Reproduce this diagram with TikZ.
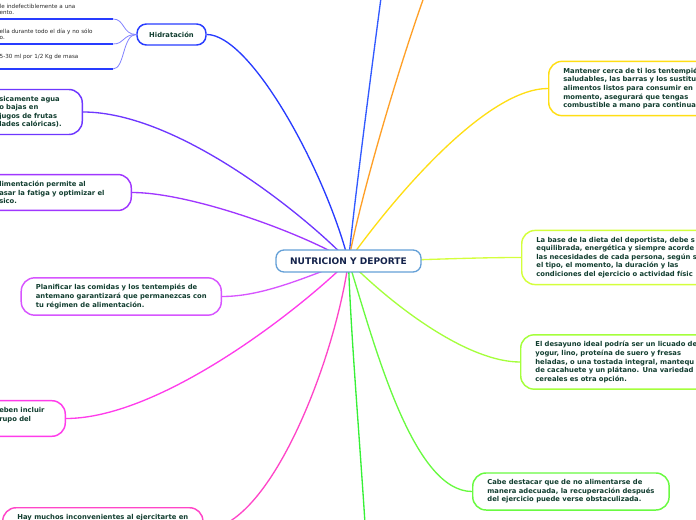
\documentclass[tikz,border=0pt]{standalone}
\usepackage{fontspec}
\setmainfont{DejaVu Sans}
\usetikzlibrary{backgrounds}

\definecolor{rootline}{RGB}{100,160,215}
\definecolor{rootink}{RGB}{20,35,75}
\definecolor{ink}{RGB}{18,62,48}
\definecolor{leafink}{RGB}{40,40,40}
\definecolor{cHyd}{RGB}{40,60,255}
\definecolor{cHydSub}{RGB}{130,130,255}
\definecolor{cBlue}{RGB}{50,90,255}
\definecolor{cOrange}{RGB}{255,160,40}
\definecolor{cYellow}{RGB}{255,222,20}
\definecolor{cLime}{RGB}{212,255,60}
\definecolor{cYGreen}{RGB}{165,255,60}
\definecolor{cGreen}{RGB}{105,250,65}
\definecolor{cBGreen}{RGB}{55,240,55}
\definecolor{cPink}{RGB}{255,70,200}
\definecolor{cMagenta}{RGB}{255,60,235}
\definecolor{cLilac}{RGB}{215,85,255}
\definecolor{cPurple}{RGB}{160,55,255}
\definecolor{cViolet}{RGB}{110,55,255}

\begin{document}
\begin{tikzpicture}[x=0.75pt, y=-0.75pt,
    rootbox/.style={draw=rootline, line width=1pt, fill=white, rounded corners=6pt, minimum width=108.75pt, minimum height=16.5pt, inner sep=0pt, font=\fontsize{6.8}{8}\selectfont\bfseries, text=rootink},
    topic/.style={draw=#1, line width=1.1pt, fill=white, rounded corners=10pt, align=left, inner xsep=11pt, inner ysep=5pt, font=\fontsize{5.1}{6.4}\selectfont\bfseries, text=ink},
    subtopic/.style={topic=#1, rounded corners=7pt, minimum width=51.75pt, minimum height=15.75pt, inner sep=0pt, align=center},
    leaf/.style={inner xsep=0pt, inner ysep=3pt, align=left, text width=84.75pt, font=\fontsize{4.2}{4.9}\selectfont, text=leafink},
    leftcut/.style={execute at begin node={\leftskip=19pt}},
    link/.style={draw=#1, line width=1pt},
    twig/.style={draw=cHydSub, line width=0.6pt},
    under/.style={draw=cHyd, line width=1.5pt}
]
\useasboundingbox (0,0) rectangle (696,520);

% Nodes
\node[rootbox] (root) at (348.5,261) {NUTRICION Y DEPORTE};

\node[subtopic=cHyd] (hyd) at (171.5,34.5) {Hidratación};
\node[leaf, anchor=south east] (hyd1) at (113,19) {le indefectiblemente a una\\ento.};
\node[leaf, anchor=south east] (hyd2) at (113,44) {ella durante todo el día y no sólo\\o.};
\node[leaf, anchor=south east] (hyd3) at (113,69) {5-30 ml por 1/2 Kg de masa\\\mbox{}};

\node[topic=cViolet, leftcut, text width=70.25pt, anchor=east] (agua) at (83,112) {sicamente agua\\o bajas en\\jugos de frutas\\lades calóricas).};
\node[topic=cPurple, leftcut, text width=107pt, anchor=east] (fatiga) at (132,192.5) {limentación permite al\\asar la fatiga y optimizar el\\sico.};
\node[topic=cLilac, anchor=east] (plan) at (222,296.5) {Planificar las comidas y los tentempiés de\\antemano garantizará que permanezcas con\\tu régimen de alimentación.};
\node[topic=cMagenta, leftcut, text width=57.5pt, anchor=east] (grupo) at (66,418.5) {eben incluir\\rupo del\\\mbox{}};
\node[topic=cPink, anchor=north west] (incon) at (2,507) {Hay muchos inconvenientes al ejercitarte en\\\mbox{}\\\mbox{}\\\mbox{}};

\node[topic=cYellow, text width=200pt, anchor=west] (cerca) at (548,88.5) {Mantener cerca de ti los tentempié\\saludables, las barras y los sustitu\\alimentos listos para consumir en\\momento, asegurará que tengas\\combustible a mano para continua};
\node[topic=cLime, text width=200pt, anchor=west] (dieta) at (521,257.5) {La base de la dieta del deportista, debe s\\equilibrada, energética y siempre acorde\\las necesidades de cada persona, según s\\el tipo, el momento, la duración y las\\condiciones del ejercicio o actividad físic};
\node[topic=cYGreen, text width=200pt, anchor=west] (desayuno) at (520,362) {El desayuno ideal podría ser un licuado de\\yogur, lino, proteína de suero y fresas\\heladas, o una tostada integral, mantequ\\de cacahuete y un plátano. Una variedad\\cereales es otra opción.};
\node[topic=cGreen, anchor=west] (recup) at (472,491.5) {Cabe destacar que de no alimentarse de\\manera adecuada, la recuperación después\\del ejercicio puede verse obstaculizada.};

\coordinate (upblue) at (390,-70);
\coordinate (uporange) at (451,-70);
\coordinate (downgreen) at (368,580);

% Connections from the root to the topics
\begin{scope}[on background layer]
\draw[link=cHyd]     (root.center) .. controls +(-23.5,-91) and +(44,0) .. (hyd.east);
\draw[link=cBlue]    (root.center) .. controls +(8,-80) and +(-8,60) .. (upblue);
\draw[link=cOrange]  (root.center) .. controls +(15,-80) and +(-30,60) .. (uporange);
\draw[link=cYellow]  (root.center) .. controls +(50,-70) and +(-60,0) .. (cerca.west);
\draw[link=cLime]    (root.center) .. controls +(60,0) and +(-60,0) .. (dieta.west);
\draw[link=cYGreen]  (root.center) .. controls +(50,50) and +(-50,0) .. (desayuno.west);
\draw[link=cGreen]   (root.center) .. controls +(25,80) and +(-60,0) .. (recup.west);
\draw[link=cBGreen]  (root.center) .. controls +(2,79) and +(-3,-80) .. (downgreen);
\draw[link=cPink]    (root.center) .. controls +(-13.5,99) and +(66,0) .. (incon.east);
\draw[link=cMagenta] (root.center) .. controls +(-50.5,50) and +(94,0) .. (grupo.east);
\draw[link=cLilac]   (root.center) .. controls +(-48.5,19) and +(38,0) .. (plan.east);
\draw[link=cPurple]  (root.center) .. controls +(-48.5,-29) and +(58,0) .. (fatiga.east);
\draw[link=cViolet]  (root.center) .. controls +(-38.5,-41) and +(97,0) .. (agua.east);
\end{scope}

% Hidratacion leaves
\draw[twig] (hyd.west) .. controls +(-14,0) and +(12,0) .. (hyd1.south east);
\draw[twig] (hyd.west) .. controls +(-14,0) and +(12,0) .. (hyd2.south east);
\draw[twig] (hyd.west) .. controls +(-14,0) and +(12,0) .. (hyd3.south east);
\draw[under] (hyd1.south west) -- (hyd1.south east);
\draw[under] (hyd2.south west) -- (hyd2.south east);
\draw[under] (hyd3.south west) -- (hyd3.south east);

\end{tikzpicture}
\end{document}
